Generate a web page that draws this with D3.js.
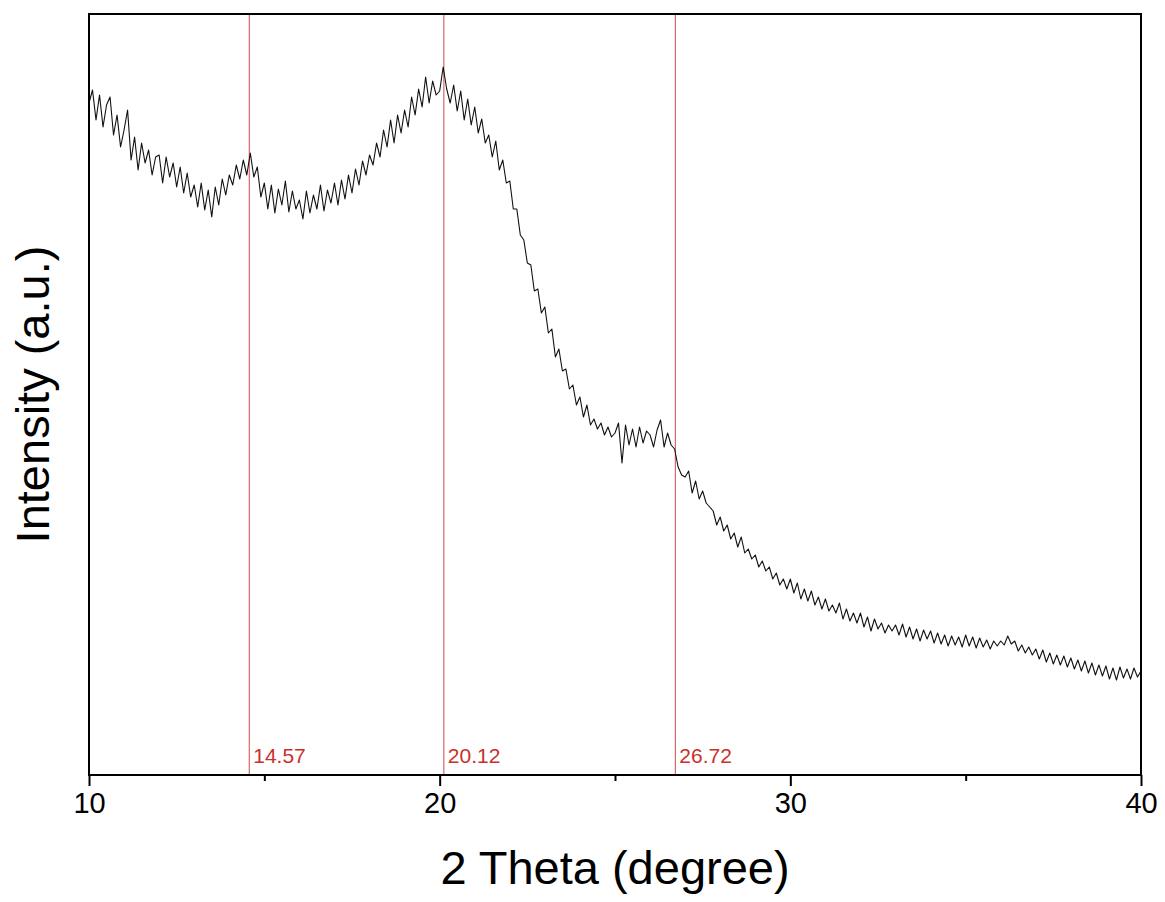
<!DOCTYPE html>
<html>
<head>
<meta charset="utf-8">
<script src="https://cdn.jsdelivr.net/npm/d3@7"></script>
<style>
  html, body { margin: 0; padding: 0; background: #fff; }
  svg { display: block; }
  text { font-family: "Liberation Sans", Arial, sans-serif; }
</style>
</head>
<body>
<svg id="chart" width="1165" height="902"></svg>
<script>
// ---- data ----
const thetaStart = 10, thetaStep = 0.1;
const intensity = [
  672, 685, 655, 680, 648, 670, 678, 640, 660, 628,
  645, 665, 615, 638, 605, 632, 612, 625, 600, 618,
  620, 592, 618, 598, 612, 588, 608, 582, 602, 578,
  590, 568, 592, 565, 585, 558, 588, 570, 596, 580,
  600, 590, 610, 596, 615, 600, 622, 598, 608, 578,
  592, 566, 590, 562, 586, 570, 594, 563, 584, 566,
  575, 556, 584, 562, 580, 566, 590, 564, 585, 572,
  592, 570, 595, 576, 600, 582, 606, 590, 614, 600,
  620, 610, 632, 618, 645, 628, 655, 632, 660, 642,
  665, 648, 678, 660, 686, 668, 698, 672, 694, 680,
  684, 708, 686, 672, 690, 664, 684, 655, 676, 650,
  668, 642, 656, 632, 640, 618, 634, 605, 615, 592,
  594, 566, 566, 540, 535, 512, 510, 484, 486, 462,
  468, 442, 446, 418, 426, 404, 406, 386, 390, 370,
  378, 358, 370, 350, 356, 346, 352, 340, 348, 338,
  342, 352, 312, 350, 330, 346, 328, 348, 332, 344,
  340, 328, 345, 355, 328, 342, 330, 326, 308, 300,
  298, 304, 282, 294, 276, 284, 272, 268, 264, 250,
  258, 244, 250, 236, 242, 228, 238, 222, 226, 216,
  220, 208, 214, 204, 208, 196, 202, 190, 196, 186,
  196, 182, 192, 176, 186, 174, 184, 170, 178, 166,
  176, 164, 170, 162, 172, 156, 166, 154, 162, 152,
  162, 148, 158, 144, 156, 146, 152, 142, 150, 144,
  150, 140, 151, 138, 148, 136, 146, 134, 145, 136,
  144, 132, 142, 131, 140, 129, 139, 130, 138, 128,
  140, 129, 138, 127, 137, 128, 135, 126, 134, 129,
  134, 130, 139, 131, 134, 124, 130, 122, 128, 120,
  126, 116, 125, 113, 122, 111, 120, 110, 119, 108,
  117, 106, 115, 104, 114, 102, 112, 100, 110, 99,
  109, 96, 107, 95, 108, 97, 106, 96, 107, 98,
  104
];
const peaks = [14.57, 20.12, 26.72];
const peakLabels = ["14.57", "20.12", "26.72"];
const xMajorTicks = [10, 20, 30, 40];
const xMinorTicks = [15, 25, 35];
const xTitle = "2 Theta (degree)";
const yTitle = "Intensity (a.u.)";

const data = intensity.map((v, i) => ({ x: thetaStart + i * thetaStep, y: v }));

// ---- layout ----
const svg = d3.select("#chart");
const mLeft = 89, mRight = 1141, mTop = 14, mBottom = 775;

const x = d3.scaleLinear().domain([10, 40]).range([mLeft, mRight]);
const y = d3.scaleLinear().domain([0, 761]).range([mBottom, mTop]);

// peak lines
const red = "#c9302c";
svg.append("g").selectAll("line").data(peaks).join("line")
  .attr("x1", d => x(d)).attr("x2", d => x(d))
  .attr("y1", mTop).attr("y2", mBottom)
  .attr("stroke", "#d04848").attr("stroke-width", 1);

svg.append("g").selectAll("text").data(peaks).join("text")
  .attr("x", d => x(d) + 4).attr("y", 763)
  .attr("fill", red).attr("font-size", 21)
  .text((d, i) => peakLabels[i]);

// curve
svg.append("path").datum(data)
  .attr("fill", "none").attr("stroke", "#111").attr("stroke-width", 1.1)
  .attr("stroke-linejoin", "round")
  .attr("d", d3.line().x(d => x(d.x)).y(d => y(d.y)));

// frame
svg.append("rect")
  .attr("x", mLeft).attr("y", mTop)
  .attr("width", mRight - mLeft).attr("height", mBottom - mTop)
  .attr("fill", "none").attr("stroke", "#000").attr("stroke-width", 2);

// x axis
const xAxis = d3.axisBottom(x).tickValues(xMajorTicks).tickSize(11).tickPadding(6)
  .tickFormat(d3.format("d"));
const gx = svg.append("g").attr("transform", `translate(0,${mBottom})`).call(xAxis);
gx.select(".domain").remove();
gx.selectAll(".tick line").attr("stroke", "#000").attr("stroke-width", 2);
gx.selectAll(".tick text").attr("font-size", 29).attr("fill", "#000")
  .attr("font-family", "Liberation Sans, Arial, sans-serif").attr("dy", "0.71em");

const xAxisMinor = d3.axisBottom(x).tickValues(xMinorTicks).tickSize(6).tickFormat("");
const gxm = svg.append("g").attr("transform", `translate(0,${mBottom})`).call(xAxisMinor);
gxm.select(".domain").remove();
gxm.selectAll(".tick line").attr("stroke", "#000").attr("stroke-width", 2);

// titles
svg.append("text")
  .attr("x", (mLeft + mRight) / 2).attr("y", 884)
  .attr("text-anchor", "middle").attr("font-size", 47).attr("fill", "#000")
  .text(xTitle);

svg.append("text")
  .attr("transform", `translate(49,${(mTop + mBottom) / 2}) rotate(-90)`)
  .attr("text-anchor", "middle").attr("font-size", 47).attr("fill", "#000")
  .text(yTitle);
</script>
</body>
</html>
